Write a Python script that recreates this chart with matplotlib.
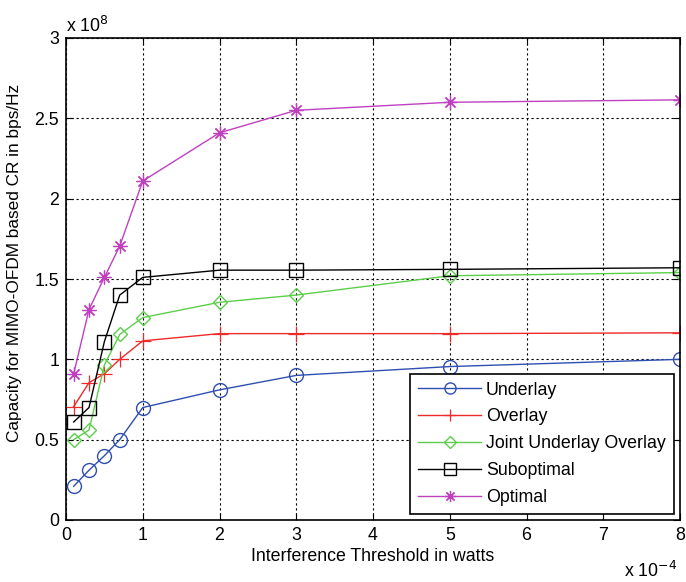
import matplotlib
matplotlib.use("Agg")
import matplotlib.pyplot as plt

plt.rcParams['font.family'] = ['Liberation Sans', 'DejaVu Sans']
FS = 12.8

# Interference threshold (x 1e-4 W) and capacity (x 1e8 bps/Hz)
threshold = [0.1, 0.3, 0.5, 0.7, 1, 2, 3, 5, 8]
underlay = [0.21, 0.31, 0.40, 0.50, 0.70, 0.81, 0.90, 0.955, 1.0]
overlay = [0.705, 0.855, 0.91, 1.0, 1.115, 1.16, 1.16, 1.16, 1.165]
joint = [0.50, 0.56, 0.965, 1.155, 1.26, 1.355, 1.40, 1.52, 1.54]
suboptimal = [0.61, 0.70, 1.11, 1.40, 1.51, 1.555, 1.555, 1.56, 1.57]
optimal = [0.91, 1.31, 1.51, 1.705, 2.11, 2.41, 2.55, 2.60, 2.615]

series = [
    ("Underlay", underlay, '#2f4fb0', 'o', 10),
    ("Overlay", overlay, '#ee2a2a', '+', 11),
    ("Joint Underlay Overlay", joint, '#5ccf4a', 'D', 7.5),
    ("Suboptimal", suboptimal, '#000000', 's', 10),
    ("Optimal", optimal, '#c040c0', (8, 2, 0), 10),
]

fig = plt.figure(figsize=(6.86, 5.82), dpi=100)
ax = fig.add_axes([66/686, 62/582, 614/686, 482/582])

for label, vals, color, marker, ms in series:
    if marker == '+' or isinstance(marker, tuple):
        kw = dict(markeredgecolor=color, markeredgewidth=0.9)
    else:
        kw = dict(markerfacecolor='none', markeredgecolor=color, markeredgewidth=1.0)
    ax.plot(threshold, vals, color=color, marker=marker, markersize=ms,
            linewidth=1.0, label=label, **kw)

ax.set_xlim(0, 8)
ax.set_ylim(0, 3)
ax.set_xticks(range(0, 9))
ax.set_yticks([0, 0.5, 1, 1.5, 2, 2.5, 3])
ax.set_yticklabels(['0', '0.5', '1', '1.5', '2', '2.5', '3'])
ax.grid(True, color='black', linestyle=(0, (2, 2.5)), linewidth=0.8)
ax.tick_params(direction='in', top=True, right=True, labelsize=FS, length=5, pad=5)
for s in ax.spines.values():
    s.set_linewidth(1.2)

ax.set_xlabel('Interference Threshold in watts', fontsize=FS, labelpad=3)
ax.set_ylabel('Capacity for MIMO-OFDM based CR in bps/Hz', fontsize=12.4)
ax.yaxis.set_label_coords(-0.072, 0.533)

ax.text(0.0, 1.004, r'x 10$^{8}$', transform=ax.transAxes, fontsize=FS,
        ha='left', va='bottom')
ax.text(0.995, -0.085, r'x 10$^{-4}$', transform=ax.transAxes, fontsize=FS,
        ha='right', va='top')

leg = ax.legend(loc='lower right', fontsize=FS, fancybox=False, framealpha=1,
                edgecolor='black', handlelength=3.5, handletextpad=0.3,
                borderaxespad=0.35, labelspacing=0.55, borderpad=0.45,
                markerscale=0.8)
leg.get_frame().set_linewidth(1.2)

fig.savefig('out.png', dpi=100, facecolor='white')
